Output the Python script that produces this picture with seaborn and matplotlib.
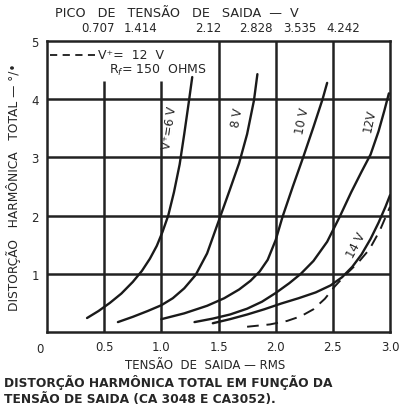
import pandas as pd
import matplotlib.pyplot as plt
import seaborn as sns
from matplotlib.lines import Line2D

# Curvas (tensão RMS, distorção %)
v6_x = [0.35, 0.45, 0.55, 0.65, 0.75, 0.83, 0.90, 0.96, 1.01, 1.06, 1.11, 1.16, 1.20, 1.24, 1.27]
v6_y = [0.24, 0.36, 0.50, 0.66, 0.86, 1.05, 1.26, 1.48, 1.72, 2.00, 2.40, 2.88, 3.40, 3.95, 4.38]

v8_x = [0.62, 0.75, 0.88, 1.00, 1.10, 1.20, 1.30, 1.40, 1.50, 1.60, 1.68, 1.75, 1.81, 1.84]
v8_y = [0.17, 0.26, 0.36, 0.46, 0.58, 0.75, 0.98, 1.35, 1.90, 2.45, 2.90, 3.40, 3.98, 4.43]

v10_x = [1.00, 1.20, 1.40, 1.55, 1.68, 1.78, 1.86, 1.93, 2.00, 2.06, 2.15, 2.24, 2.33, 2.41, 2.45]
v10_y = [0.22, 0.32, 0.45, 0.58, 0.73, 0.88, 1.04, 1.24, 1.58, 1.98, 2.50, 3.00, 3.52, 4.00, 4.28]

v12_x = [1.29, 1.45, 1.60, 1.75, 1.88, 2.00, 2.12, 2.22, 2.33, 2.45, 2.56, 2.66, 2.75, 2.83, 2.90, 2.95, 2.99]
v12_y = [0.17, 0.23, 0.30, 0.40, 0.52, 0.67, 0.84, 1.00, 1.22, 1.55, 1.98, 2.40, 2.75, 3.05, 3.45, 3.80, 4.10]

v14_x = [1.45, 1.60, 1.75, 1.90, 2.05, 2.20, 2.35, 2.48, 2.58, 2.67, 2.75, 2.83, 2.90, 2.96, 3.00]
v14_y = [0.15, 0.22, 0.30, 0.39, 0.49, 0.58, 0.68, 0.80, 0.94, 1.12, 1.33, 1.60, 1.88, 2.15, 2.35]

# V+ = 12 V, Rf = 150 ohms (tracejada)
rf_x = [1.75, 1.95, 2.10, 2.22, 2.33, 2.43, 2.52, 2.62, 2.72, 2.82, 2.91, 3.00]
rf_y = [0.09, 0.13, 0.19, 0.27, 0.39, 0.57, 0.79, 1.00, 1.19, 1.42, 1.74, 2.15]

x_ticks = [0.5, 1.0, 1.5, 2.0, 2.5, 3.0]
x_tick_labels = ["0.5", "1.0", "1.5", "2.0", "2.5", "3.0"]
y_ticks = [1, 2, 3, 4, 5]
pico_labels = ["0.707", "1.414", "2.12", "2.828", "3.535", "4.242"]
pico_pos = [0.45, 0.82, 1.41, 1.83, 2.21, 2.59]

curvas = pd.concat([
    pd.DataFrame({"rms": v6_x, "thd": v6_y, "curva": "6V"}),
    pd.DataFrame({"rms": v8_x, "thd": v8_y, "curva": "8V"}),
    pd.DataFrame({"rms": v10_x, "thd": v10_y, "curva": "10V"}),
    pd.DataFrame({"rms": v12_x, "thd": v12_y, "curva": "12V"}),
    pd.DataFrame({"rms": v14_x, "thd": v14_y, "curva": "14V"}),
])
tracejada = pd.DataFrame({"rms": rf_x, "thd": rf_y})

sns.set_style("white")
plt.rcParams["font.family"] = ["DejaVu Sans"]

fig = plt.figure(figsize=(4.09, 4.14), dpi=100)
ax = fig.add_axes([0.115, 0.1957, 0.8386, 0.7029])

# grade (as linhas 0.5 e 1.0 param abaixo da legenda)
ax.vlines([0.5, 1.0], 0, 4.31, color="#222222", lw=1.8, zorder=1)
ax.vlines([1.5, 2.0, 2.5], 0, 5, color="#222222", lw=1.8, zorder=1)
ax.hlines([1, 2, 3, 4], 0, 3, color="#222222", lw=1.8, zorder=1)

for nome, grupo in curvas.groupby("curva", sort=False):
    sns.lineplot(data=grupo, x="rms", y="thd", sort=False, estimator=None,
                 color="#1a1a1a", lw=1.7, ax=ax, zorder=3)
sns.lineplot(data=tracejada, x="rms", y="thd", sort=False, estimator=None,
             color="#1a1a1a", lw=1.4, ax=ax, zorder=3,
             linestyle=(0, (6, 4)))

ax.set_xlim(0, 3)
ax.set_ylim(0, 5)
for s in ax.spines.values():
    s.set_linewidth(1.8)
    s.set_color("#222222")

ax.set_xticks(x_ticks)
ax.set_xticklabels(x_tick_labels, fontsize=8.5)
ax.set_yticks(y_ticks)
ax.set_yticklabels([str(v) for v in y_ticks], fontsize=8.5)
ax.tick_params(length=0, pad=6)
ax.set_xlabel("TENSÃO  DE  SAIDA — RMS", fontsize=8.5)
ax.xaxis.set_label_coords(0.46, -0.088)
ax.set_ylabel("DISTORÇÃO   HARMÔNICA   TOTAL — °/•", fontsize=8.8)
ax.yaxis.set_label_coords(-0.075, 0.5)
ax.text(-0.02, -0.035, "0", transform=ax.transAxes, fontsize=8.5,
        ha="center", va="top")

# eixo superior (pico)
for p, lab in zip(pico_pos, pico_labels):
    ax.text(p, 5.12, lab, fontsize=8.5, ha="center", va="bottom")
fig.text(0.135, 0.968, "PICO   DE   TENSÃO   DE   SAIDA  —  V", fontsize=9.2,
         ha="left", va="center")

# legenda
ax.add_line(Line2D([0.01, 0.14], [0.952, 0.952], transform=ax.transAxes,
                   color="#1a1a1a", lw=1.3, linestyle=(0, (4, 3))))
ax.text(0.148, 0.952, "V⁺=  12  V", transform=ax.transAxes, fontsize=9,
        va="center")
ax.text(0.18, 0.902, "R$_f$= 150  OHMS", transform=ax.transAxes, fontsize=9,
        va="center")

# rótulos das curvas
ax.text(1.075, 3.52, "V⁺=6 V", rotation=82, fontsize=8.5, ha="center", va="center")
ax.text(1.66, 3.7, "8 V", rotation=80, fontsize=8.5, ha="center", va="center")
ax.text(2.23, 3.63, "10 V", rotation=78, fontsize=8.5, ha="center", va="center")
ax.text(2.82, 3.65, "12V", rotation=78, fontsize=8.5, ha="center", va="center")
ax.text(2.7, 1.5, "14 V", rotation=62, fontsize=8.5, ha="center", va="center")

fig.text(0.01, 0.077, "DISTORÇÃO HARMÔNICA TOTAL EM FUNÇÃO DA", fontsize=8.8,
         fontweight="bold", ha="left", va="center")
fig.text(0.01, 0.036, "TENSÃO DE SAIDA (CA 3048 E CA3052).", fontsize=8.8,
         fontweight="bold", ha="left", va="center")

fig.savefig("out.png", dpi=100)
